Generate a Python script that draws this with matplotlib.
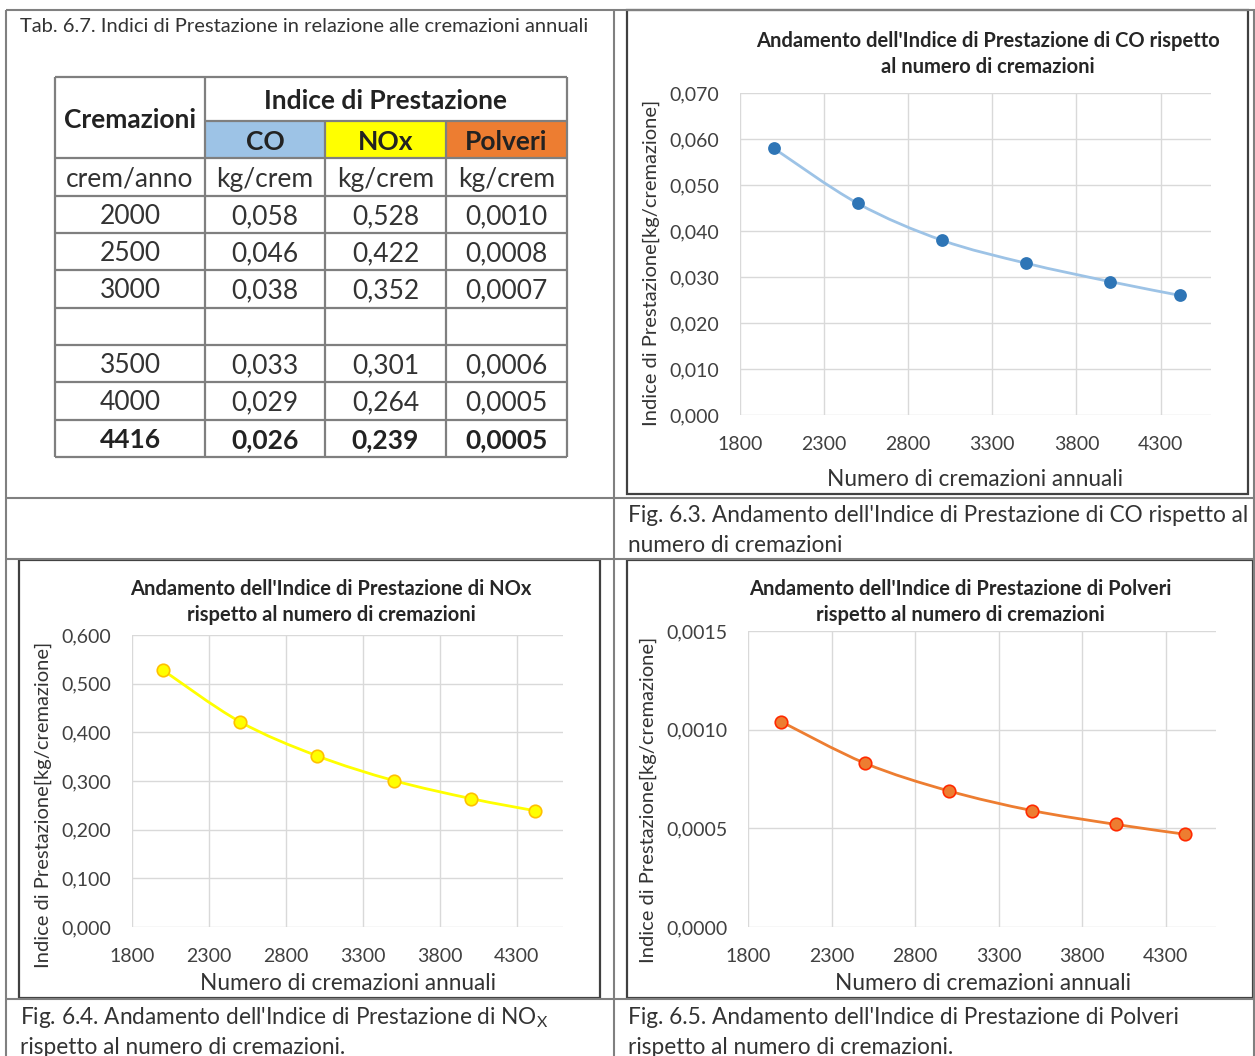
import matplotlib
matplotlib.use("Agg")
import matplotlib.pyplot as plt
from matplotlib.path import Path
from matplotlib.patches import PathPatch, Rectangle
from matplotlib.ticker import FuncFormatter, FixedLocator, MultipleLocator

plt.rcParams['font.family'] = ['Lato', 'DejaVu Sans']
plt.rcParams['mathtext.fontset'] = 'custom'
plt.rcParams['mathtext.rm'] = 'Lato'

# ---------------- data ----------------
cremazioni = [2000, 2500, 3000, 3500, 4000, 4416]
co = [0.058, 0.046, 0.038, 0.033, 0.029, 0.026]
nox = [0.528, 0.422, 0.352, 0.301, 0.264, 0.239]
polveri = [0.00104, 0.00083, 0.00069, 0.00059, 0.00052, 0.00047]
pollutants = ["CO", "NOx", "Polveri"]
units = ["crem/anno", "kg/crem", "kg/crem", "kg/crem"]
x_ticks = [1800, 2300, 2800, 3300, 3800, 4300]

W, H = 1255, 1056
fig = plt.figure(figsize=(W / 100, H / 100), dpi=100)
bg = fig.add_axes([0, 0, 1, 1])
bg.set_xlim(0, W)
bg.set_ylim(H, 0)
bg.axis('off')

GRID = '#808080'
FRAME = '#404040'


def line(x0, y0, x1, y1, color=GRID, lw=1.5):
    bg.plot([x0, x1], [y0, y1], color=color, lw=lw, solid_capstyle='butt')


def rect(x0, y0, x1, y1, color=FRAME, lw=1.6):
    bg.add_patch(Rectangle((x0, y0), x1 - x0, y1 - y0, fill=False,
                           edgecolor=color, lw=lw))


# Word-table layout lines
for y in (10, 498, 559, 999):
    line(6, y, 1255, y)
for x in (6, 614):
    line(x, 10, x, 1056)
line(1254, 10, 1254, 1056)

# chart frames
rect(627, 10, 1248, 494)
rect(19, 560, 600, 998)
rect(627, 560, 1253, 998)

# ---------------- table ----------------
bg.text(20, 26, "Tab. 6.7. Indici di Prestazione in relazione alle cremazioni annuali",
        fontsize=14.5, va='center', ha='left', color='#333333')

cols = [55, 205, 325, 446, 567]
header_colors = ['#9DC3E6', '#FFFF00', '#ED7D31']
for i, c in enumerate(header_colors):
    bg.add_patch(Rectangle((cols[i + 1], 121), cols[i + 2] - cols[i + 1], 37,
                           facecolor=c, edgecolor='none'))

row_edges = [158, 196, 233, 270, 308, 345, 382, 420, 457]
data_edges = row_edges[1:]
TL = '#7F7F7F'
line(cols[0], 77, cols[-1], 77, TL, 1.6)
line(cols[1], 121, cols[-1], 121, TL, 1.6)
for y in row_edges:
    line(cols[0], y, cols[-1], y, TL, 1.6)
line(cols[0], 77, cols[0], 457, TL, 1.6)
line(cols[-1], 77, cols[-1], 457, TL, 1.6)
line(cols[1], 77, cols[1], 457, TL, 1.6)
for x in cols[2:4]:
    line(x, 121, x, 457, TL, 1.6)

TS = 19
DY = 2
bg.text((cols[0] + cols[1]) / 2, 118 + DY, "Cremazioni", fontsize=TS, fontweight='bold',
        ha='center', va='center', color='#222222')
bg.text((cols[1] + cols[-1]) / 2, 99 + DY, "Indice di Prestazione", fontsize=TS,
        fontweight='bold', ha='center', va='center', color='#222222')
for i, p in enumerate(pollutants):
    bg.text((cols[i + 1] + cols[i + 2]) / 2, 140 + DY, p, fontsize=TS, fontweight='bold',
            ha='center', va='center', color='#222222')
for i, u in enumerate(units):
    bg.text((cols[i] + cols[i + 1]) / 2, 177 + DY, u, fontsize=TS, ha='center',
            va='center', color='#333333')

row_slots = [0, 1, 2, 4, 5, 6]   # one empty row after 3000
for k, slot in enumerate(row_slots):
    yc = (data_edges[slot] + data_edges[slot + 1]) / 2 + DY
    bold = k == len(cremazioni) - 1
    vals = [f"{cremazioni[k]}",
            f"{co[k]:.3f}".replace('.', ','),
            f"{nox[k]:.3f}".replace('.', ','),
            f"{polveri[k]:.4f}".replace('.', ',')]
    for i, v in enumerate(vals):
        bg.text((cols[i] + cols[i + 1]) / 2, yc, v, fontsize=TS,
                fontweight='bold' if bold else 'normal',
                ha='center', va='center', color='#222222' if bold else '#333333')

# ---------------- captions ----------------
CS = 16.3
bg.text(628, 516, "Fig. 6.3. Andamento dell'Indice di Prestazione di CO rispetto al",
        fontsize=CS, va='center', color='#333333')
bg.text(628, 546, "numero di cremazioni", fontsize=CS, va='center', color='#333333')
bg.text(20, 1018, r"Fig. 6.4. Andamento dell'Indice di Prestazione di NO$_\mathrm{X}$",
        fontsize=CS, va='center', color='#333333')
bg.text(20, 1047, "rispetto al numero di cremazioni.", fontsize=CS, va='center',
        color='#333333')
bg.text(628, 1018, "Fig. 6.5. Andamento dell'Indice di Prestazione di Polveri",
        fontsize=CS, va='center', color='#333333')
bg.text(628, 1047, "rispetto al numero di cremazioni.", fontsize=CS, va='center',
        color='#333333')


# ---------------- charts ----------------
def smooth_path(xs, ys):
    pts = list(zip(xs, ys))
    n = len(pts)
    verts = [pts[0]]
    codes = [Path.MOVETO]
    for i in range(n - 1):
        p0 = pts[i - 1] if i > 0 else pts[i]
        p1 = pts[i]
        p2 = pts[i + 1]
        p3 = pts[i + 2] if i + 2 < n else pts[i + 1]
        c1 = (p1[0] + (p2[0] - p0[0]) / 6, p1[1] + (p2[1] - p0[1]) / 6)
        c2 = (p2[0] - (p3[0] - p1[0]) / 6, p2[1] - (p3[1] - p1[1]) / 6)
        verts += [c1, c2, p2]
        codes += [Path.CURVE4] * 3
    return Path(verts, codes)


def px_rect(left, right, bottom, top):
    return [left / W, (H - bottom) / H, (right - left) / W, (bottom - top) / H]


def make_chart(pos, ys, ymax, ystep, ndec, title, title_xy, line_c, face_c, edge_c,
               xlabel_xy, ylabel_xy, msize=8):
    ax = fig.add_axes(px_rect(*pos))
    ax.set_facecolor('none')
    path = smooth_path(cremazioni, ys)
    ax.add_patch(PathPatch(path, fill=False, edgecolor=line_c, lw=2.0, zorder=3))
    ax.plot(cremazioni, ys, linestyle='none', marker='o', markersize=msize,
            markerfacecolor=face_c, markeredgecolor=edge_c, markeredgewidth=1.2,
            zorder=4, clip_on=False)
    ax.set_xlim(1800, 4600)
    ax.set_ylim(0, ymax)
    ax.xaxis.set_major_locator(FixedLocator(x_ticks))
    ax.yaxis.set_major_locator(MultipleLocator(ystep))
    ax.yaxis.set_major_formatter(FuncFormatter(
        lambda v, _: f"{v:.{ndec}f}".replace('.', ',')))
    ax.grid(True, color='#D9D9D9', lw=1.0)
    ax.set_axisbelow(True)
    for s in ax.spines.values():
        s.set_visible(False)
    ax.tick_params(length=0, pad=15, labelsize=14, labelcolor='#404040')
    ax.set_xlabel("Numero di cremazioni annuali", fontsize=16.3, color='#333333')
    ax.set_ylabel("Indice di Prestazione[kg/cremazione]", fontsize=14.5, color='#333333')
    l, r, b, t = pos
    ax.xaxis.set_label_coords((xlabel_xy[0] - l) / (r - l), (b - xlabel_xy[1]) / (b - t))
    ax.yaxis.set_label_coords((ylabel_xy[0] - l) / (r - l), (b - ylabel_xy[1]) / (b - t))
    ax.xaxis.label.set_va('center')
    ax.yaxis.label.set_va('center')
    bg.text(title_xy[0], title_xy[1], title, fontsize=14.5, fontweight='bold',
            ha='center', va='center', color='#262626', linespacing=1.42)
    return ax


make_chart((740, 1211, 415, 93), co, 0.07, 0.01, 3,
           "Andamento dell'Indice di Prestazione di CO rispetto\nal numero di cremazioni",
           (988, 54), '#9DC3E6', '#2E75B6', '#2E75B6', (975, 479), (651, 263))
make_chart((132, 563, 927, 635), nox, 0.6, 0.1, 3,
           "Andamento dell'Indice di Prestazione di NOx\nrispetto al numero di cremazioni",
           (331, 602), '#FFFF00', '#FFFF00', '#FFC000', (348, 983), (43, 805), 9)
make_chart((748, 1216, 927, 631), polveri, 0.0015, 0.0005, 4,
           "Andamento dell'Indice di Prestazione di Polveri\nrispetto al numero di cremazioni",
           (960, 602), '#ED7D31', '#ED7D31', '#FF2A00', (983, 983), (648, 800), 9)

fig.savefig("out.png", dpi=100)
